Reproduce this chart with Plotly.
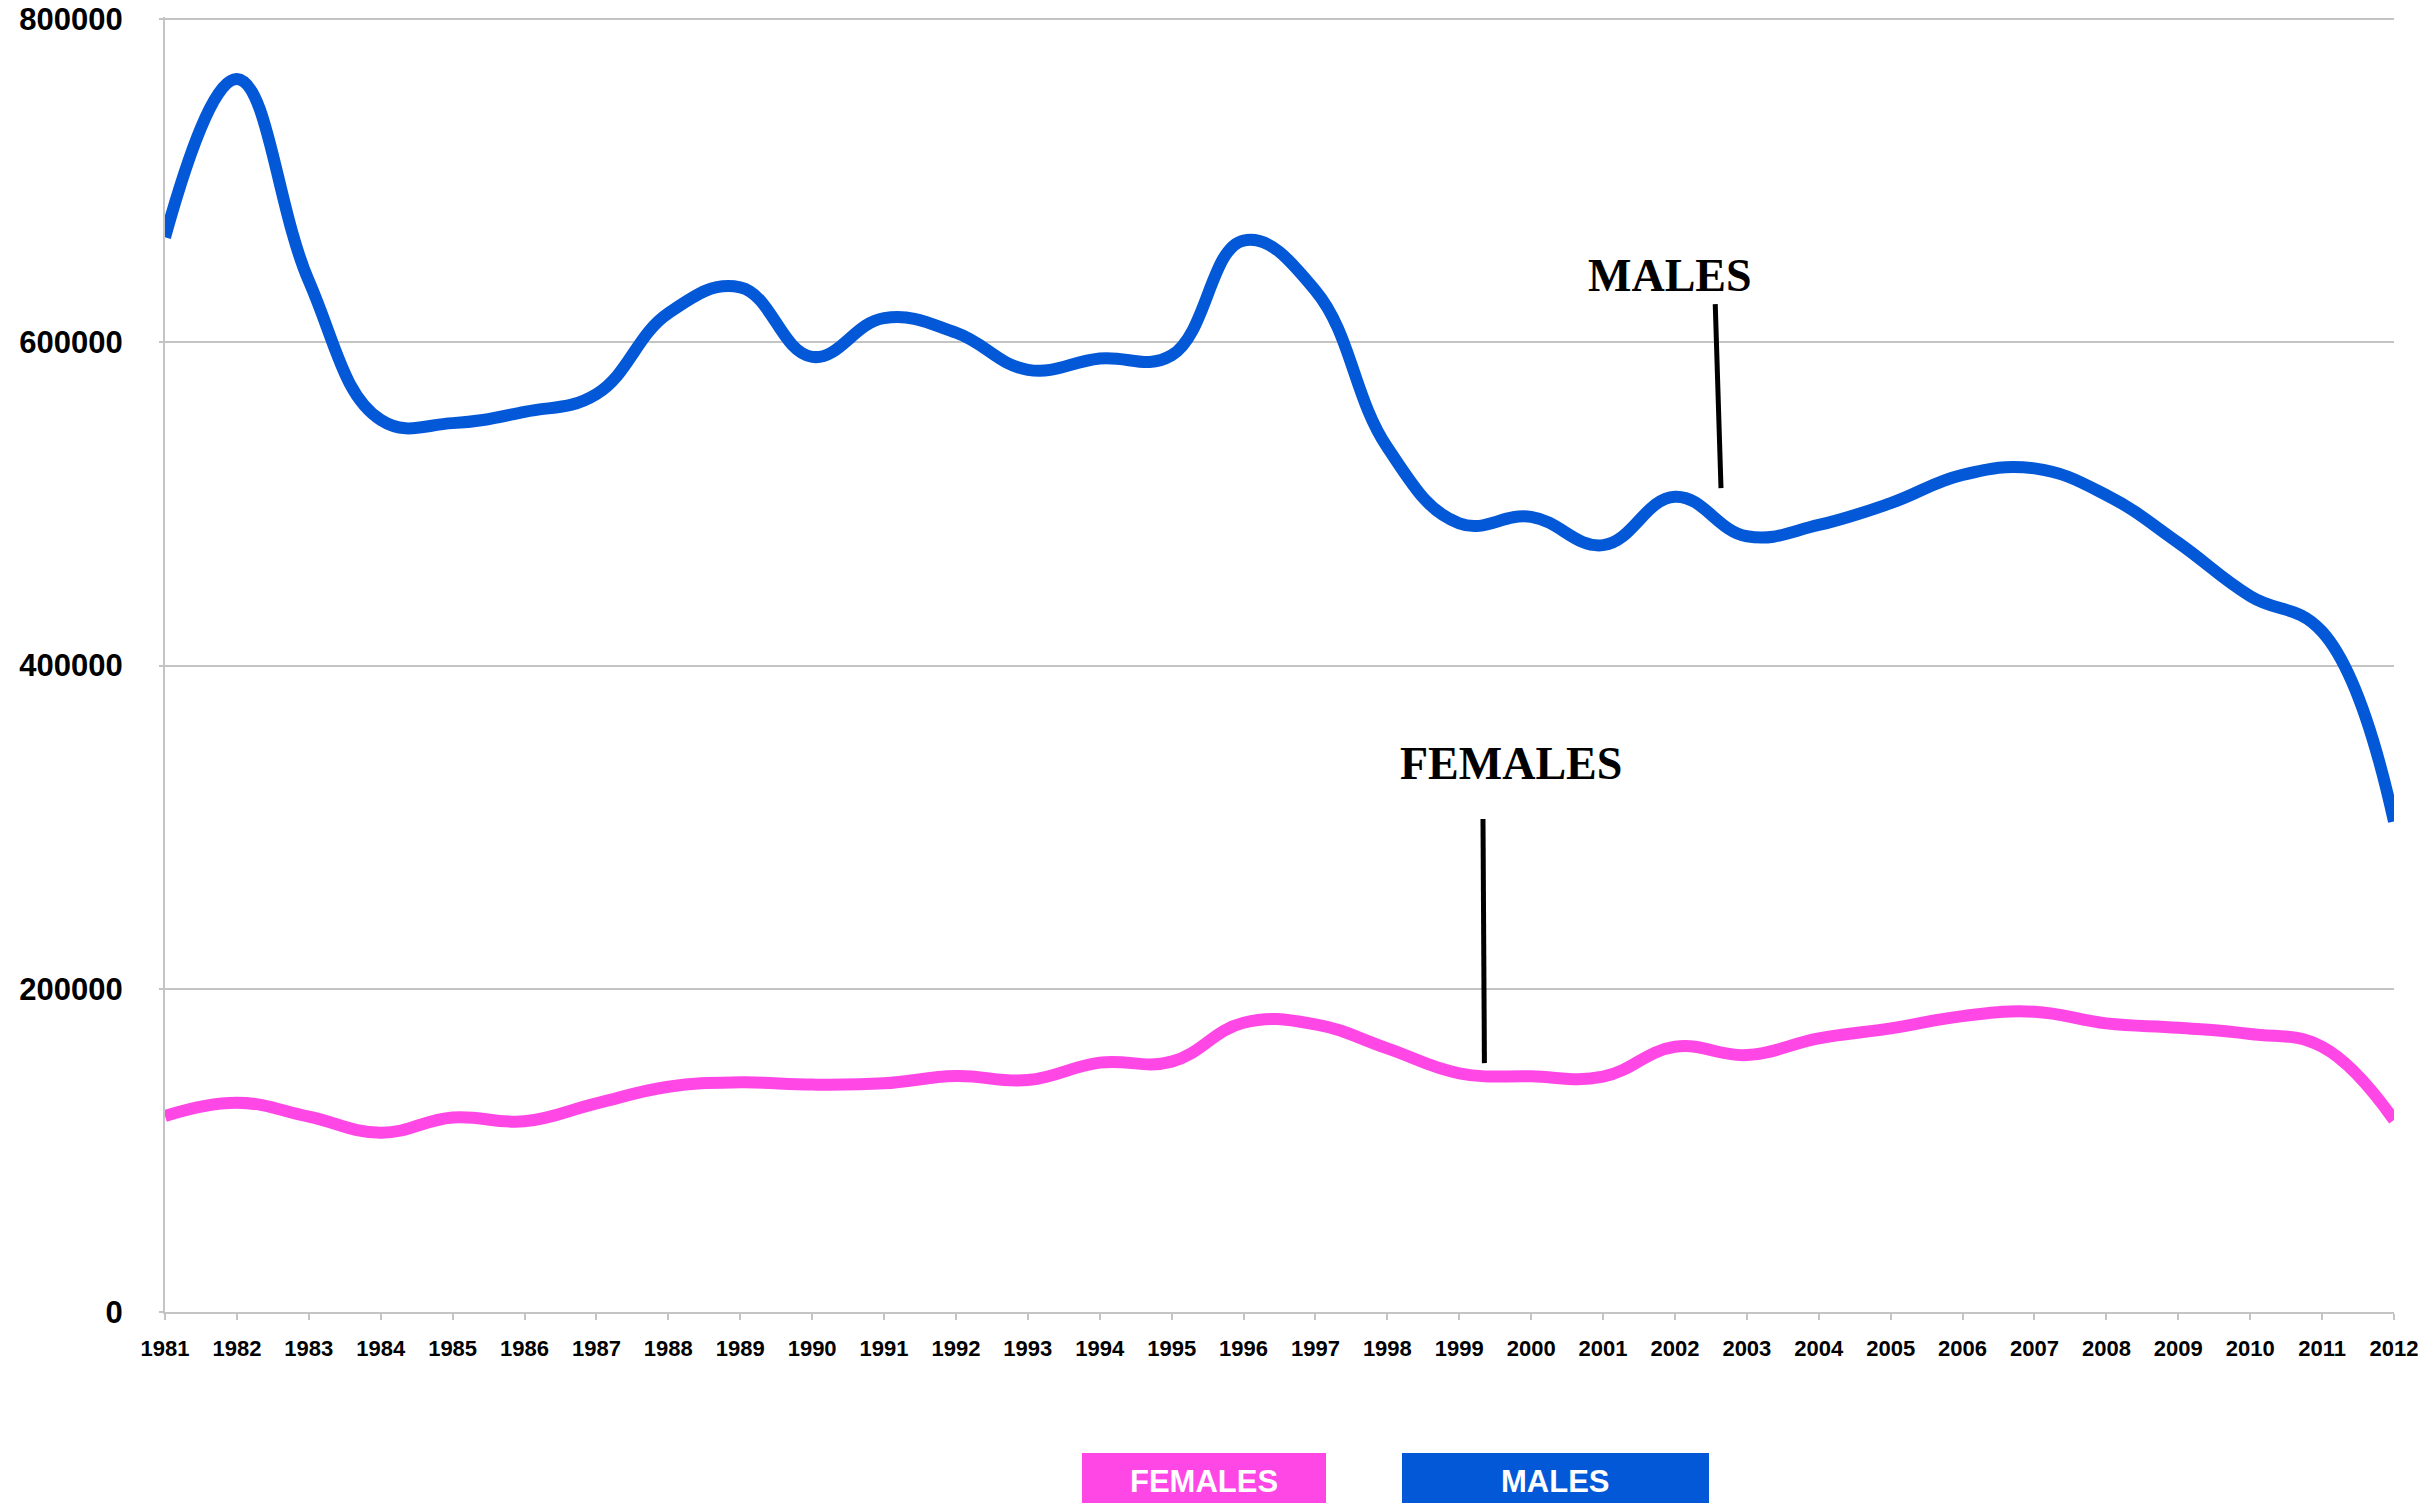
import plotly.graph_objects as go

years = list(range(1981, 2013))
males = [665000, 763000, 638000, 552000, 550000, 557000, 568000, 618000, 634000, 591000,
         615000, 606000, 583000, 590000, 592000, 663000, 632000, 535000, 488000, 492000,
         474500, 504500, 480000, 487000, 500500, 518000, 522000, 505500, 476000, 443000,
         421000, 303500]
females = [121300, 129500, 120900, 110900, 120400, 118000, 129100, 139400, 142100, 140700,
           141500, 146000, 143500, 154300, 154900, 179000, 178000, 163100, 147700, 145800,
           145600, 164100, 159000, 169300, 175500, 183100, 185800, 178600, 175900, 172000,
           164100, 118800]
y_ticks = [0, 200000, 400000, 600000, 800000]
y_labels = ["0", "200000", "400000", "600000", "800000"]
year_labels = [str(y) for y in years]

BLUE = "#0358d8"
PINK = "#ff47e6"
GRID = "#c4c4c4"

# plot area at x 165..2394, y 17..1312 in the window (top gridline at ~19)
L, T, R_EDGE, B_EDGE = 165, 17, 2394, 1312
WIDTH, HEIGHT = 2436, 1503

fig = go.Figure()
fig.add_trace(go.Scatter(x=years, y=females, mode="lines", name="FEMALES",
                         line=dict(color=PINK, width=12, shape="spline", smoothing=1.2)))
fig.add_trace(go.Scatter(x=years, y=males, mode="lines", name="MALES",
                         line=dict(color=BLUE, width=12, shape="spline", smoothing=1.2)))

# annotation texts and pointer lines
fig.add_annotation(x=2001.93, y=641600, text="<b>MALES</b>", showarrow=False,
                   xanchor="center", yanchor="middle",
                   font=dict(family="Liberation Serif", size=46, color="black"))
fig.add_annotation(x=1999.72, y=339700, text="<b>FEMALES</b>", showarrow=False,
                   xanchor="center", yanchor="middle",
                   font=dict(family="Liberation Serif", size=46, color="black"))
fig.add_shape(type="line", xref="x", yref="y", x0=2002.56, y0=623600, x1=2002.64, y1=509800,
              line=dict(color="black", width=5))
fig.add_shape(type="line", xref="x", yref="y", x0=1999.33, y0=305000, x1=1999.35, y1=154000,
              line=dict(color="black", width=5))

# legend boxes (clipped at bottom of page)
W = float(R_EDGE - L)
H = float(B_EDGE - T)
def px_x(p):
    return (p - L) / W
def px_y(p):
    return (B_EDGE - p) / H

fig.add_shape(type="rect", xref="paper", yref="paper",
              x0=px_x(1082), x1=px_x(1326), y0=px_y(1453), y1=px_y(1540),
              fillcolor=PINK, line=dict(width=0), layer="above")
fig.add_shape(type="rect", xref="paper", yref="paper",
              x0=px_x(1402), x1=px_x(1709), y0=px_y(1453), y1=px_y(1540),
              fillcolor=BLUE, line=dict(width=0), layer="above")
fig.add_annotation(xref="paper", yref="paper", x=px_x(1204), y=px_y(1481), text="<b>FEMALES</b>",
                   showarrow=False, xanchor="center", yanchor="middle",
                   font=dict(family="Liberation Sans", size=31, color="white"))
fig.add_annotation(xref="paper", yref="paper", x=px_x(1555.5), y=px_y(1481), text="<b>MALES</b>",
                   showarrow=False, xanchor="center", yanchor="middle",
                   font=dict(family="Liberation Sans", size=31, color="white"))

fig.update_layout(
    width=WIDTH, height=HEIGHT,
    margin=dict(l=L, r=WIDTH - R_EDGE, t=T, b=HEIGHT - B_EDGE, autoexpand=False),
    paper_bgcolor="white", plot_bgcolor="white",
    showlegend=False,
    xaxis=dict(range=[1981, 2012], tickvals=years, ticktext=year_labels,
               showgrid=False, zeroline=False, automargin=False,
               showline=True, linecolor=GRID, linewidth=2,
               ticks="outside", ticklen=6, tickcolor=GRID, tickwidth=2,
               ticklabelstandoff=10, ticklabeloverflow="allow",
               tickfont=dict(family="Liberation Sans", size=22, color="black", weight="bold")),
    yaxis=dict(range=[0, 801300], tickvals=y_ticks, ticktext=y_labels,
               showgrid=True, gridcolor=GRID, gridwidth=1.5, zeroline=False, automargin=False,
               showline=True, linecolor=GRID, linewidth=2,
               ticks="outside", ticklen=4, tickcolor=GRID, tickwidth=1.5,
               ticklabelstandoff=30, ticklabeloverflow="allow",
               tickfont=dict(family="Liberation Sans", size=31, color="black", weight="bold")),
)

fig.write_html("out.html", config={"displayModeBar": False},
               post_script="document.body.style.margin='0';document.body.style.overflow='hidden';")
